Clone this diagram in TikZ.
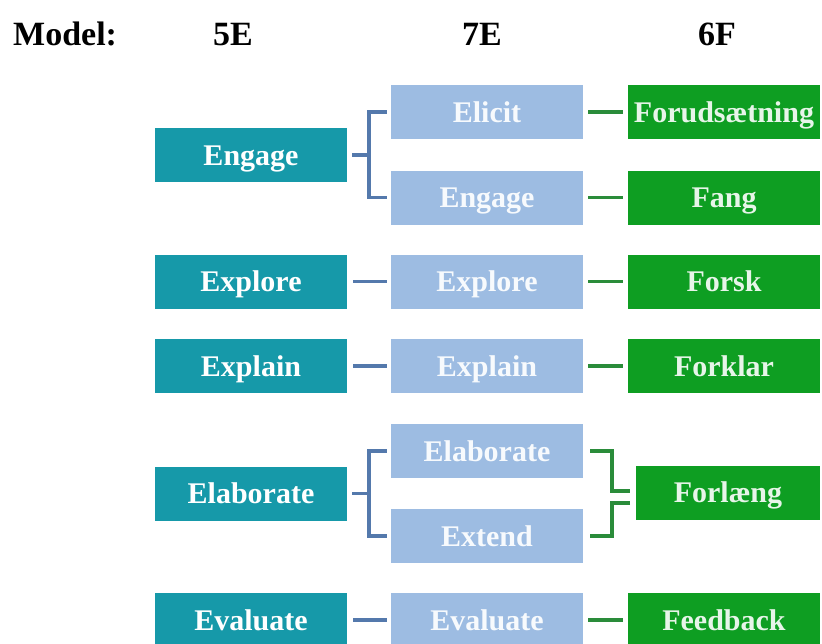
\documentclass[tikz,border=0pt]{standalone}
\usepackage{fontspec}
\setmainfont{Liberation Serif}
\definecolor{teal5}{HTML}{1699A9}
\definecolor{blue7}{HTML}{9DBCE2}
\definecolor{green6}{HTML}{0E9E22}
\definecolor{bluel}{HTML}{5479AC}
\definecolor{greenl}{HTML}{2A8C3A}
\begin{document}
\begin{tikzpicture}[x=1pt,y=-1pt,
  box/.style={minimum width=192pt,minimum height=54pt,inner sep=0pt,
    text height=20pt,text depth=0pt,font=\fontsize{30}{30}\selectfont\bfseries},
  e5/.style={box,fill=teal5,text=white},
  e7/.style={box,fill=blue7,text=white!92!blue7},
  f6/.style={box,fill=green6,text=white!90!green6},
  bl/.style={draw=bluel,line width=3.2pt},
  gl/.style={draw=greenl,line width=3.2pt},
  hdr/.style={font=\fontsize{34}{34}\selectfont\bfseries,inner sep=0pt,anchor=base}]
\useasboundingbox (0,0) rectangle (822,643);
% headers
\node[hdr,anchor=base west] (h0) at (13,45) {Model:};
\node[hdr] (h1) at (233,45) {5E};
\node[hdr] (h2) at (482,45) {7E};
\node[hdr] (h3) at (717,45) {6F};
% 5E
\node[e5] (a1) at (251,155) {Engage};
\node[e5] (a2) at (251,281.5) {Explore};
\node[e5] (a3) at (251,366) {Explain};
\node[e5] (a4) at (251,493.5) {Elaborate};
\node[e5] (a5) at (251,620) {Evaluate};
% 7E
\node[e7] (b1) at (487,112) {Elicit};
\node[e7] (b2) at (487,197.5) {Engage};
\node[e7] (b3) at (487,281.5) {Explore};
\node[e7] (b4) at (487,366) {Explain};
\node[e7] (b5) at (487,451) {Elaborate};
\node[e7] (b6) at (487,536) {Extend};
\node[e7] (b7) at (487,620) {Evaluate};
% 6F
\node[f6] (c1) at (724,112) {Forudsætning};
\node[f6] (c2) at (724,197.5) {Fang};
\node[f6] (c3) at (724,281.5) {Forsk};
\node[f6] (c4) at (724,366) {Forklar};
\node[f6,minimum width=184pt] (c5) at (728,492.5) {Forlæng};
\node[f6] (c6) at (724,620) {Feedback};
% blue brackets
\coordinate (j1) at (369,155);
\coordinate (j2) at (369,493.5);
\draw[bl] ([xshift=5pt]a1.east) -- (j1);
\draw[bl] ([xshift=-4pt]b1.west) -| (j1) |- ([xshift=-4pt]b2.west);
\draw[bl] ([xshift=5pt]a4.east) -- (j2);
\draw[bl] ([xshift=-4pt]b5.west) -| (j2) |- ([xshift=-4pt]b6.west);
% blue links
\draw[bl] ([xshift=6pt]a2.east) -- ([xshift=-4pt]b3.west);
\draw[bl] ([xshift=6pt]a3.east) -- ([xshift=-4pt]b4.west);
\draw[bl] ([xshift=6pt]a5.east) -- ([xshift=-4pt]b7.west);
% green links
\draw[gl] ([xshift=5pt]b1.east) -- ([xshift=-5pt]c1.west);
\draw[gl] ([xshift=5pt]b2.east) -- ([xshift=-5pt]c2.west);
\draw[gl] ([xshift=5pt]b3.east) -- ([xshift=-5pt]c3.west);
\draw[gl] ([xshift=5pt]b4.east) -- ([xshift=-5pt]c4.west);
\draw[gl] ([xshift=5pt]b7.east) -- ([xshift=-5pt]c6.west);
% green bracket
\coordinate (k1) at (612,491);
\coordinate (e1) at (630,491);
\coordinate (k2) at (612,503);
\coordinate (e2) at (630,503);
\draw[gl] ([xshift=7pt]b5.east) -| (k1) -- (e1);
\draw[gl] (e2) -- (k2) |- ([xshift=7pt]b6.east);
\end{tikzpicture}
\end{document}
